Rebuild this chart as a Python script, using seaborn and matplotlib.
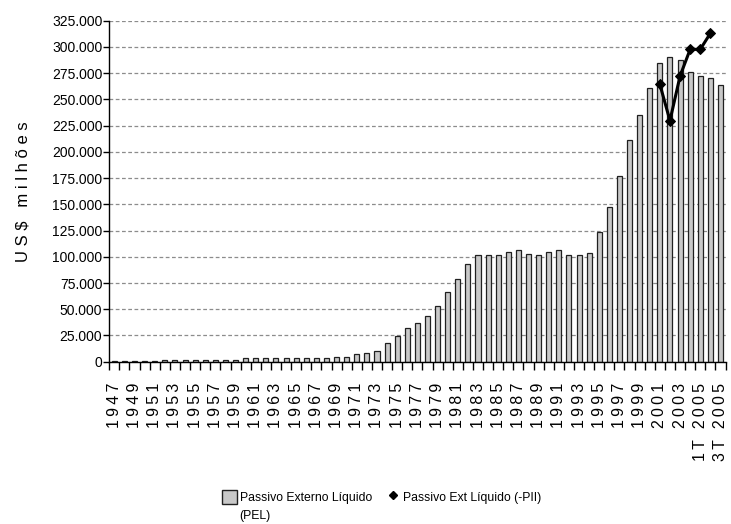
import numpy as np
import pandas as pd
import matplotlib
matplotlib.use('Agg')
from matplotlib import pyplot as plt
from matplotlib.ticker import FuncFormatter, MultipleLocator, FixedLocator
from matplotlib.patches import Patch
from matplotlib.lines import Line2D
import seaborn as sns

# categorias: anos 1947-2004 e trimestres de 2005
periodos = [str(a) for a in range(1947, 2005)] + ['1T 2005', '2T 2005', '3T 2005']

# Passivo Externo Liquido (PEL), US$ milhoes
pel = [400, 400, 350, 350, 450,                                      # 1947-1951
       1900, 2000, 2000, 2000, 2000, 1900, 2000, 1900,               # 1952-1959
       3200, 3200, 3200, 3200, 3100, 3100, 3100, 3100, 3200,         # 1960-1968
       4800, 4900, 7000, 8500, 10000, 18300, 24900, 32000, 36800,    # 1969-1977
       43400, 53400, 66900, 78400, 93100, 101500, 101500, 101500,    # 1978-1985
       105000, 106300, 103100, 101600, 105000, 106300, 101600,       # 1986-1992
       101600, 103400, 123300, 147100, 177300, 211300, 235100,       # 1993-1999
       260500, 284400, 290700, 287500, 275800,                       # 2000-2004
       272300, 270700, 263700]                                       # 1T-3T 2005

# Passivo Externo Liquido (-PII), so a partir de 2001
pii = [np.nan] * 54 + [264400, 229700, 272300, 297700, 297700, 313000, np.nan]

titulo_y = 'U S $   m i l h õ e s'
leg_pel = 'Passivo Externo Líquido'
leg_pel2 = '(PEL)'
leg_pii = 'Passivo Ext Líquido (-PII)'

df = pd.DataFrame({'periodo': periodos, 'pel': pel, 'pii': pii})
df['pos'] = np.arange(len(df))

sns.set_theme(style='white', rc={'text.color': 'black', 'axes.labelcolor': 'black',
                                 'xtick.color': 'black', 'ytick.color': 'black'})
plt.rcParams['font.family'] = ['Liberation Sans', 'DejaVu Sans']

W, H = 731, 524
fig = plt.figure(figsize=(W / 100, H / 100), dpi=100)
ax = fig.add_axes([0.1495, 0.3097, 0.843, 0.6508])

sns.barplot(data=df, x='periodo', y='pel', order=periodos, color='#c8c8c8', saturation=1,
            width=0.5, edgecolor='#202020', linewidth=0.9, ax=ax)
sns.lineplot(data=df.dropna(subset=['pii']), x='pos', y='pii', color='black', linewidth=2.2,
             marker='D', markersize=5, markeredgecolor='black', ax=ax)

ax.set_xlim(-0.5, len(periodos) - 0.5)
ax.set_ylim(0, 325000)

# eixo y
ax.yaxis.set_major_locator(MultipleLocator(25000))
ax.yaxis.set_major_formatter(FuncFormatter(lambda v, p: f'{v:,.0f}'.replace(',', '.')))
ax.tick_params(axis='y', left=True, length=4, width=1, pad=1, labelsize=10)
ax.yaxis.grid(True, linestyle=(0, (3, 2)), color='#8c8c8c', linewidth=0.9)
ax.xaxis.grid(False)
ax.set_axisbelow(True)
ax.set_ylabel(titulo_y, fontsize=12)
ax.yaxis.set_label_coords(-0.128, 0.5)

# eixo x: rotulos a cada dois periodos, marcas entre categorias
idx = list(range(0, len(periodos), 2))
ax.set_xticks(idx)
ax.set_xticklabels(['\u2009'.join(periodos[i]) for i in idx], rotation=90, fontsize=11.5)
ax.xaxis.set_minor_locator(FixedLocator(np.arange(-0.5, len(periodos), 1)))
ax.tick_params(axis='x', which='major', bottom=True, length=0, pad=15)
ax.tick_params(axis='x', which='minor', bottom=True, length=6, width=1, color='black')
ax.set_xlabel('')

for s in ['top', 'right']:
    ax.spines[s].set_visible(False)
for s in ['left', 'bottom']:
    ax.spines[s].set_color('black')
    ax.spines[s].set_linewidth(1)

# legenda
handles = [Patch(facecolor='#c8c8c8', edgecolor='#202020', label=leg_pel),
           Line2D([], [], color='black', marker='D', linestyle='none', markersize=4.5,
                  label=leg_pii)]
leg = fig.legend(handles=handles, loc='center', bbox_to_anchor=(0.522, 1 - 497 / H), ncol=2,
                 frameon=False, fontsize=8.8, handlelength=1.25, handleheight=1.45,
                 handletextpad=0.2, columnspacing=1.1, borderpad=0)

fig.canvas.draw()
bb = leg.get_texts()[0].get_window_extent()
fig.text(bb.x0 / W, 1 - 516 / H, leg_pel2, fontsize=8.8, ha='left', va='center')

fig.savefig('out.png', dpi=100)
